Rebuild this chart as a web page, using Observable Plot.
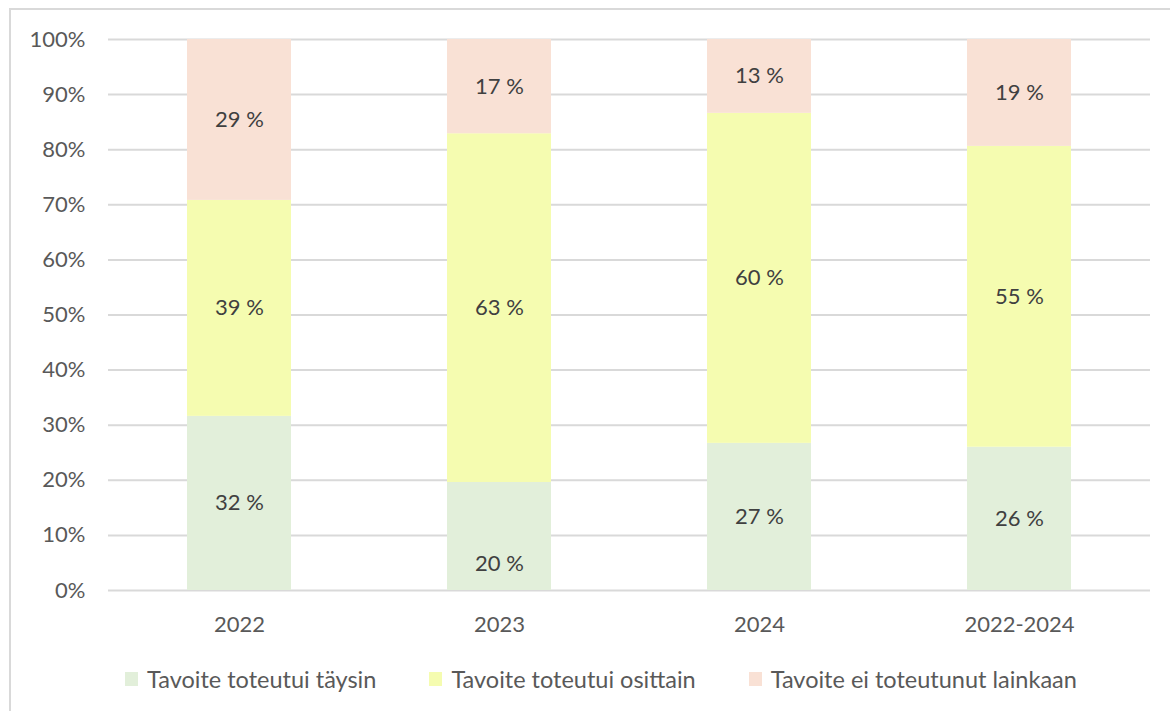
<!DOCTYPE html>
<html>
<head>
<meta charset="utf-8">
<script src="https://cdn.jsdelivr.net/npm/d3@7"></script>
<script src="https://cdn.jsdelivr.net/npm/@observablehq/plot@0.6"></script>
<style>
  html, body { margin: 0; padding: 0; background: #fff; overflow: hidden; }
  #wrap { position: relative; width: 1170px; height: 711px; overflow: hidden; font-family: Lato, "Open Sans", sans-serif; }
  #frame { position: absolute; left: 9px; top: 8px; width: 1300px; height: 900px; border: 2px solid #D9D9D9; box-sizing: border-box; }
  #chart { position: absolute; left: 0; top: 0; }
  #legend { position: absolute; left: 125px; top: 665px; display: flex; gap: 53px; align-items: center; font-size: 23.5px; color: #595959; white-space: nowrap; }
  .item { display: flex; align-items: center; gap: 9px; }
  .sw { width: 13px; height: 14px; display: inline-block; }
</style>
</head>
<body>
<div id="wrap">
  <div id="frame"></div>
  <div id="chart"></div>
  <div id="legend"></div>
</div>
<script>
const categories = ["2022", "2023", "2024", "2022-2024"];
const series = ["Tavoite toteutui täysin", "Tavoite toteutui osittain", "Tavoite ei toteutunut lainkaan"];
const fullValues = [31.6, 19.6, 26.7, 26.0];
const partialValues = [39.2, 63.3, 59.9, 54.6];
const noneValues = [29.2, 17.1, 13.4, 19.4];
const yTicks = [0, 10, 20, 30, 40, 50, 60, 70, 80, 90, 100];
const colors = ["#E2EFDA", "#F5FCB0", "#F9E1D5"];

const seriesValues = [fullValues, partialValues, noneValues];
const data = [];
categories.forEach((cat, i) => {
  series.forEach((s, j) => {
    data.push({cat, series: s, value: seriesValues[j][i]});
  });
});

const fmt = d => `${Math.round(d.value)} %`;
const shifted = d => d.cat === "2023" && d.series === series[0];
const stackOpts = () => ({x: "cat", y: "value", z: "series", order: series, text: fmt});

const chart = Plot.plot({
  width: 1170,
  height: 650,
  marginLeft: 108,
  marginRight: 20,
  marginTop: 39,
  marginBottom: 60,
  style: {fontFamily: "Lato, 'Open Sans', sans-serif", background: "transparent"},
  x: {domain: categories, paddingInner: 0.6, paddingOuter: 0.3, label: null},
  y: {domain: [0, 100], label: null},
  color: {domain: series, range: colors},
  marks: [
    Plot.ruleY(yTicks, {stroke: "#D9D9D9", strokeWidth: 2}),
    Plot.barY(data, {x: "cat", y: "value", z: "series", fill: "series", order: series}),
    Plot.text(data, {...Plot.filter(d => !shifted(d), Plot.stackY(stackOpts())), fill: "#404040", fontSize: 22}),
    Plot.text(data, {...Plot.filter(shifted, Plot.stackY(stackOpts())), dy: 27, fill: "#404040", fontSize: 22}),
    Plot.axisY(yTicks, {tickSize: 0, tickPadding: 23, tickFormat: d => d + "%", fontSize: 22, fill: "#595959", label: null}),
    Plot.axisX({tickSize: 0, tickPadding: 26, fontSize: 22, fill: "#595959", label: null})
  ]
});
document.getElementById("chart").appendChild(chart);

const legend = document.getElementById("legend");
series.forEach((s, j) => {
  const item = document.createElement("div");
  item.className = "item";
  const sw = document.createElement("span");
  sw.className = "sw";
  sw.style.background = colors[j];
  const t = document.createElement("span");
  t.textContent = s;
  item.appendChild(sw);
  item.appendChild(t);
  legend.appendChild(item);
});
</script>
</body>
</html>
